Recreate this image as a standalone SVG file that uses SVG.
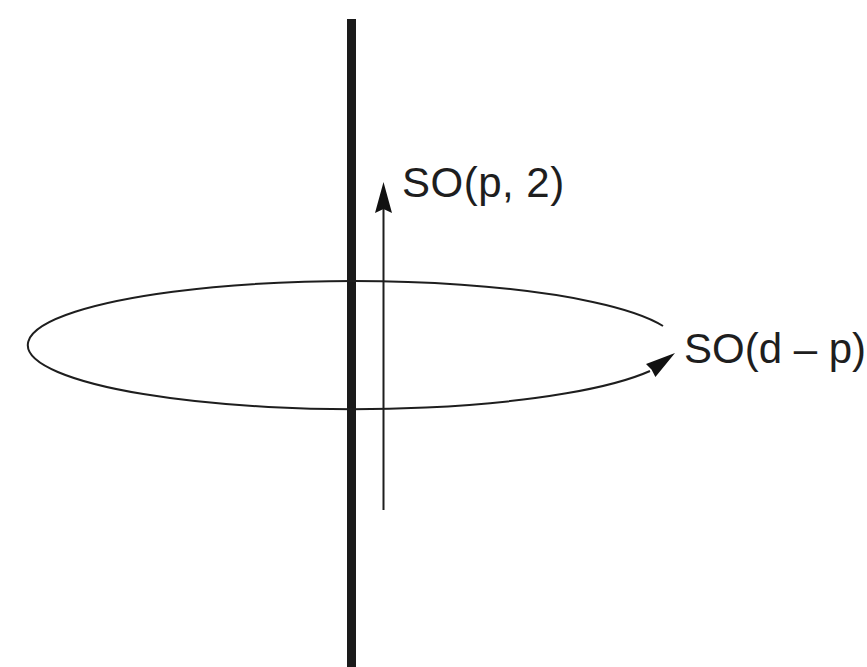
<svg xmlns="http://www.w3.org/2000/svg" width="867" height="667" viewBox="0 0 867 667">
<style>
.lbl{font-family:"Liberation Sans",Arial,sans-serif;font-size:42px;fill:#1e1e1e}
.thin{fill:none;stroke:#1e1e1e;stroke-width:2}
.head{fill:#111}
</style>
<rect width="867" height="667" fill="#fff"/>
<g id="axis">
<rect x="347" y="19" width="9" height="648" fill="#1a1a1a"/>
</g>
<g id="connectors">
<g id="rotation-ellipse">
<path class="thin" d="M663,326 A325,64 0 1 0 650,371"/>
<polygon class="head" points="675,353 655.4,377 651.5,369.5 646,364"/>
</g>
<g id="vertical-arrow">
<line class="thin" x1="383.5" y1="510" x2="383.5" y2="206"/>
<polygon class="head" points="383.5,182 392,213 383.5,209 375,213"/>
</g>
</g>
<g id="label-sop2">
<text class="lbl" x="402" y="197" letter-spacing="0.5">SO(p, 2)</text>
</g>
<g id="label-sodp">
<text class="lbl" x="684" y="363">SO(d – p)</text>
</g>
</svg>
